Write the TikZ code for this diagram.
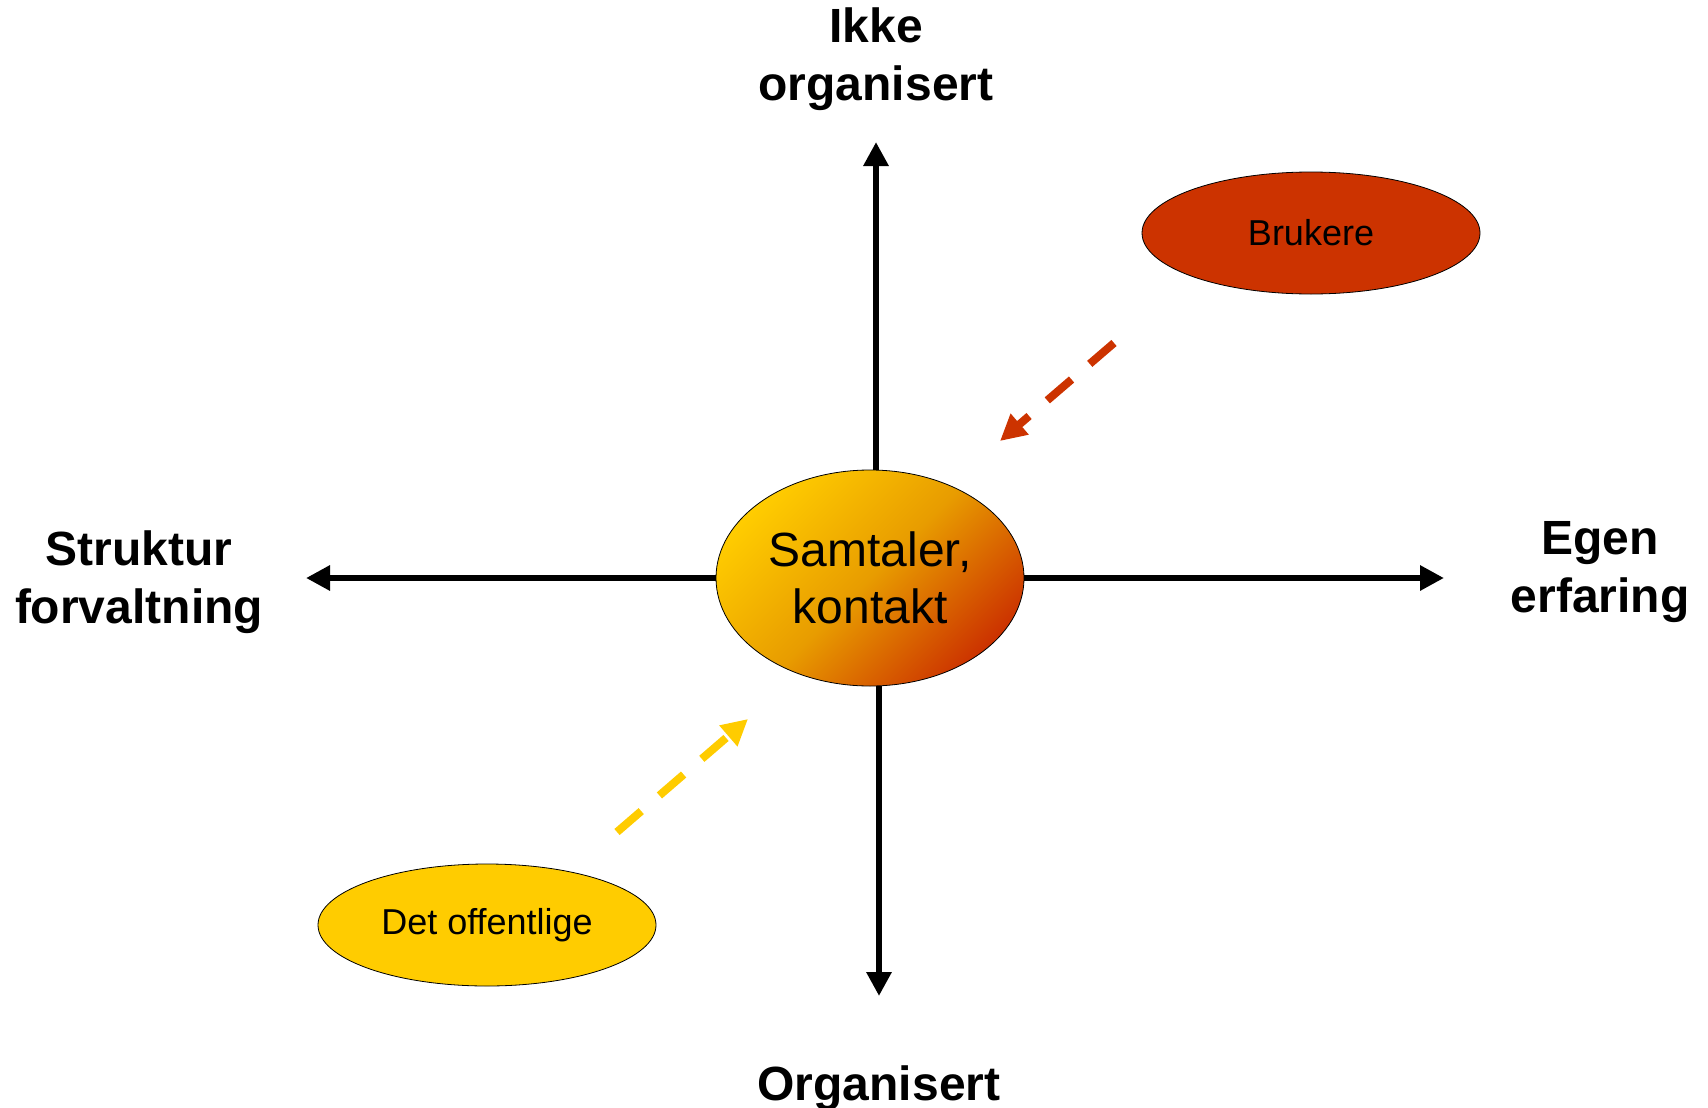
\documentclass[tikz,border=0pt]{standalone}
\usepackage{fontspec}
\setmainfont{Liberation Sans}
\usetikzlibrary{shapes.geometric,arrows.meta}
\definecolor{brukred}{HTML}{CC3300}
\definecolor{offgold}{HTML}{FFCC00}
\definecolor{midorange}{HTML}{E89C00}

\begin{document}
\begin{tikzpicture}[x=0.5pt,y=-0.5pt,
  axislabel/.style={font=\bfseries\fontsize{24}{29}\selectfont,align=center},
  blob/.style={ellipse,draw,thin,inner sep=0pt,minimum width=169pt,minimum height=61pt,font=\fontsize{18}{22}\selectfont},
  axis/.style={line width=3.4pt,-{Triangle[length=12pt,width=12pt]}},
  flow/.style={line width=4pt,dash pattern=on 16pt off 12pt,-{Triangle[length=13pt,width=13pt]}}]
 \useasboundingbox (0,0) rectangle (1708,1108);

 % centre and the two groups
 \node [ellipse,draw,thin,inner sep=0pt,minimum width=154pt,minimum height=108pt,
        top color=offgold,bottom color=brukred,middle color=midorange,shading angle=45,
        align=center,font=\fontsize{24}{28.5}\selectfont] (talk) at (870,578) {Samtaler,\\kontakt};
 \node [blob,fill=brukred] (brukere) at (1311,233) {Brukere};
 \node [blob,fill=offgold] (offentlige) at (487,925) {Det offentlige};

 % axes
 \coordinate (up) at (876,142);
 \coordinate (down) at (879,996);
 \coordinate (west) at (306,578);
 \coordinate (east) at (1444,578);
 \draw [axis] (up |- talk.north) -- (up);
 \draw [axis] (down |- talk.south) -- (down);
 \draw [axis] (talk.west) -- (west);
 \draw [axis] (talk.east) -- (east);

 \node [axislabel] (ikke) at (876,59) {Ikke\\organisert};
 \node [axislabel] (struktur) at (139,582) {Struktur\\forvaltning};
 \node [axislabel] (egen) at (1600,572) {Egen\\erfaring};
 \node [axislabel] (organisert) at (879,1088) {Organisert};

 % dashed pulls towards the centre
 \coordinate (redfrom) at (1114,343);
 \coordinate (redto) at (1000,441);
 \coordinate (goldfrom) at (617,832);
 \coordinate (goldto) at (748,719);
 \draw [flow,brukred] (redfrom) -- (redto);
 \draw [flow,offgold] (goldfrom) -- (goldto);
\end{tikzpicture}
\end{document}
